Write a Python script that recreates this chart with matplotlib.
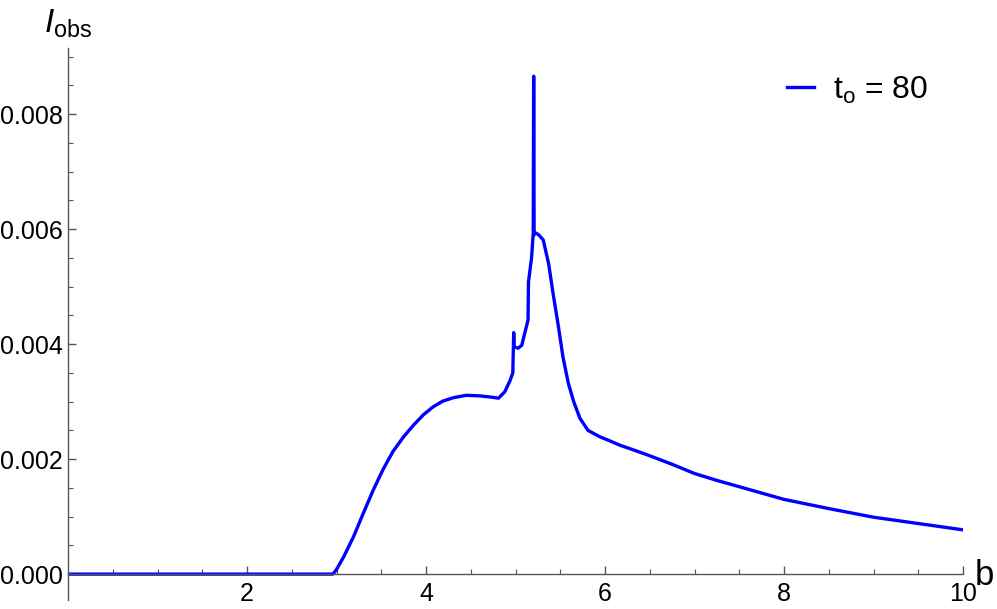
import numpy as np
import matplotlib
matplotlib.use("Agg")
from matplotlib import pyplot as plt

plt.rcParams['font.family'] = ['Liberation Sans', 'DejaVu Sans']
plt.rcParams['mathtext.fontset'] = 'custom'
plt.rcParams['mathtext.rm'] = 'Liberation Sans'
plt.rcParams['mathtext.it'] = 'Liberation Sans:italic'

# curve
b_vals = [0.0, 2.96, 3.0, 3.08, 3.19, 3.30, 3.41, 3.52, 3.63, 3.75, 3.86, 3.97,
          4.08, 4.19, 4.31, 4.45, 4.60, 4.72, 4.81, 4.88, 4.94, 4.97, 4.98,
          4.985, 5.03, 5.07, 5.14, 5.145, 5.18, 5.198, 5.203, 5.208, 5.213,
          5.23, 5.26, 5.31, 5.37, 5.42, 5.48, 5.53, 5.59, 5.65, 5.72, 5.81,
          5.94, 6.05, 6.17, 6.30, 6.48, 6.75, 7.0, 7.25, 7.5, 7.75, 8.0, 8.5,
          9.0, 9.5, 10.0]
i_vals = [0.0, 0.0, 0.00008, 0.0003, 0.00065, 0.00106, 0.00146, 0.00182, 0.00213,
          0.00239, 0.00259, 0.00277, 0.00291, 0.00301, 0.00307, 0.00311,
          0.0031, 0.00308, 0.00306, 0.00317, 0.00337, 0.0035, 0.0042, 0.00395,
          0.00393, 0.00398, 0.00442, 0.00508, 0.00551, 0.00593, 0.00866,
          0.0059, 0.00593, 0.00593, 0.0059, 0.00581, 0.0054, 0.00488, 0.0043,
          0.00378, 0.00332, 0.003, 0.00271, 0.0025, 0.00239, 0.00232, 0.00224,
          0.00217, 0.00207, 0.00191, 0.00175, 0.00163, 0.00152, 0.00141,
          0.0013, 0.00114, 0.00099, 0.00088, 0.00077]
x_ticks = [2, 4, 6, 8, 10]
y_ticks = [0.000, 0.002, 0.004, 0.006, 0.008]
series_label = r'$\mathrm{t_o}$ = 80'

fig = plt.figure(figsize=(9.97, 6.09), dpi=100)
ax = fig.add_axes([68/997, 1-600/609, (963-68)/997, 552/609])

ax.plot(b_vals, i_vals, color=(0, 0, 1), lw=2.4, label=series_label,
        solid_joinstyle='round')

ax.set_xlim(0, 10)
ax.set_ylim(-0.00045, 0.00915)

axcol = '#555555'
for s in ['top', 'right']:
    ax.spines[s].set_visible(False)
ax.spines['bottom'].set_position(('data', 0))
for s in ['left', 'bottom']:
    ax.spines[s].set_color(axcol)
    ax.spines[s].set_linewidth(1.0)

ax.set_xticks(x_ticks)
ax.set_xticklabels([str(t) for t in x_ticks])
ax.set_xticks(np.arange(0.5, 10.01, 0.5), minor=True)
ax.set_yticks(y_ticks)
ax.set_yticklabels(['%.3f' % t for t in y_ticks])
ax.set_yticks(np.arange(0.0005, 0.0091, 0.0005), minor=True)
ax.tick_params(which='both', direction='in', color=axcol, labelsize=18,
               labelcolor='black')
ax.tick_params(which='major', length=6, width=1.0)
ax.tick_params(which='minor', length=3.5, width=0.8)
ax.tick_params(axis='y', pad=4)
ax.tick_params(axis='x', pad=6)

ax.annotate('b', xy=(10, 0), xytext=(12, -11), textcoords='offset pixels',
            ha='left', va='baseline', fontsize=25)
fig.text(44/997, 1-33/609, r'$I_{\mathrm{obs}}$', ha='left', va='baseline',
         fontsize=24)

ax.legend(loc='center left', bbox_to_anchor=(787/997, 1-90/609),
          bbox_transform=fig.transFigure, frameon=False, fontsize=23,
          handlelength=0.85, handletextpad=0.6, borderpad=0, borderaxespad=0)

fig.savefig('out.png', dpi=100)
